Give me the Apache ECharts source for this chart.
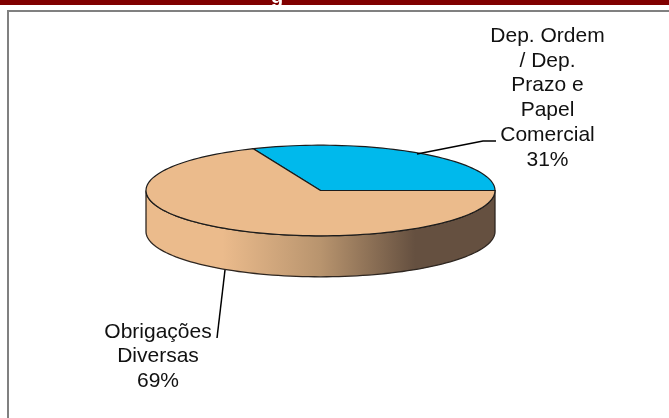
<!DOCTYPE html>
<html>
<head>
<meta charset="utf-8">
<title>Obrigações</title>
<script src="https://cdn.jsdelivr.net/npm/echarts@6/dist/echarts.min.js"></script>
<style>
  html, body { margin: 0; padding: 0; background: #fff; }
  #chart { width: 669px; height: 418px; }
</style>
</head>
<body>
<div id="chart"></div>
<script>
const categories = ['Dep. Ordem\n/ Dep.\nPrazo e\nPapel\nComercial', 'Obrigações\nDiversas'];
const shares = [31.3, 68.7];
const colors = ['#00B9EC', '#EBBB8C'];

// ellipse of the top face, in px
const CX = 320.5;
const CY = 190.5;
const RX = 174.5;
const RY = 45.3;
const DEPTH = 41;

// label centre and leader line for each slice
const labelPos = [[547.5, 98], [158, 356.5]];
const leaders = [
  [[417, 154], [483, 141], [496, 141]],
  [[225, 270], [217, 338]]
];

const total = shares.reduce((a, b) => a + b, 0);

function arcPoints(from, to, dy) {
  const pts = [];
  const steps = Math.max(2, Math.ceil(Math.abs(to - from) / 2));
  for (let i = 0; i <= steps; i++) {
    const deg = from + (to - from) * i / steps;
    const rad = deg * Math.PI / 180;
    pts.push([CX + RX * Math.cos(rad), CY - RY * Math.sin(rad) + dy]);
  }
  return pts;
}

function renderWall(params, api) {
  const idx = params.dataIndex;
  const start = shares.slice(0, idx).reduce((a, b) => a + b, 0) / total * 360;
  const end = start + shares[idx] / total * 360;
  const from = Math.max(start, 180);
  if (end <= from) return { type: 'group', children: [] };
  const top = arcPoints(from, end, 0);
  const bottom = arcPoints(end, from, DEPTH);
  return {
    type: 'polygon',
    shape: { points: top.concat(bottom) },
    style: {
      stroke: '#2e2620',
      lineWidth: 1.3,
      fill: new echarts.graphic.LinearGradient(0, 0, 1, 0, [
        { offset: 0, color: '#EBBB8C' },
        { offset: 0.22, color: '#EBBB8C' },
        { offset: 0.5, color: '#B8946E' },
        { offset: 0.77, color: '#655040' },
        { offset: 1, color: '#655040' }
      ])
    }
  };
}

function renderTop(params, api) {
  const idx = params.dataIndex;
  const start = shares.slice(0, idx).reduce((a, b) => a + b, 0) / total * 360;
  const end = start + shares[idx] / total * 360;
  return {
    type: 'polygon',
    shape: { points: [[CX, CY]].concat(arcPoints(start, end, 0)) },
    style: { fill: colors[idx], stroke: '#1c1c1c', lineWidth: 1.2 }
  };
}

function renderLabel(params, api) {
  const idx = params.dataIndex;
  return {
    type: 'group',
    children: [
      {
        type: 'polyline',
        shape: { points: leaders[idx] },
        style: { fill: null, stroke: '#000', lineWidth: 1.5 }
      },
      {
        type: 'text',
        x: labelPos[idx][0],
        y: labelPos[idx][1],
        style: {
          text: categories[idx] + '\n' + Math.round(shares[idx]) + '%',
          fill: '#111',
          font: '21px "Liberation Sans", Arial, sans-serif',
          lineHeight: 24.7,
          align: 'center',
          verticalAlign: 'middle'
        }
      }
    ]
  };
}

const chart = echarts.init(document.getElementById('chart'), null, { renderer: 'canvas' });
chart.setOption({
  animation: false,
  backgroundColor: '#fff',
  tooltip: { show: false },
  graphic: [
    { type: 'rect', shape: { x: 0, y: 0, width: 669, height: 5 }, style: { fill: '#800000' }, z: 0 },
    { type: 'polyline', shape: { points: [[8, 418], [8, 11], [669, 11]] }, style: { fill: null, stroke: '#808080', lineWidth: 2 }, z: 0 },
    // title of the slide above, only its descender is left in the crop
    { type: 'text', x: 277, y: -13, style: { text: 'g', fill: '#fff', font: 'bold 20px "Liberation Sans", Arial, sans-serif', align: 'center' }, z: 1 }
  ],
  series: [
    { type: 'custom', coordinateSystem: 'none', data: shares, renderItem: renderWall, silent: true, z: 2 },
    { type: 'custom', coordinateSystem: 'none', data: shares, renderItem: renderTop, silent: true, z: 3 },
    { type: 'custom', coordinateSystem: 'none', data: shares, renderItem: renderLabel, silent: true, z: 4 }
  ]
});
</script>
</body>
</html>
